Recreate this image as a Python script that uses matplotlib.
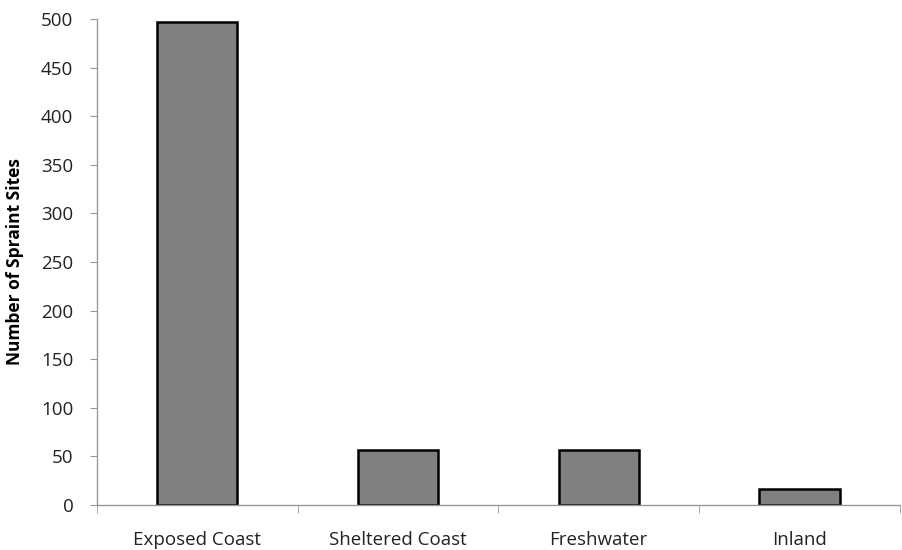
import matplotlib
matplotlib.use("Agg")
import matplotlib.pyplot as plt
import numpy as np

plt.rcParams['font.family'] = ['Open Sans', 'DejaVu Sans']

categories = ['Exposed Coast', 'Sheltered Coast', 'Freshwater', 'Inland']
sites = [497, 57, 57, 16]
yticks = list(range(0, 501, 50))

fig = plt.figure(figsize=(9.02, 5.5), dpi=100)
ax = fig.add_axes([0.1075, 0.0818, 0.89, 0.8837])

x = np.arange(len(categories))
ax.bar(x, sites, width=0.4, color='#808080', edgecolor='black', linewidth=1.8)

ax.set_xlim(-0.5, len(categories) - 0.5)
ax.set_ylim(0, 500)
ax.set_yticks(yticks)
ax.set_yticklabels([str(t) for t in yticks], fontsize=13.5, color='#222222')

# category labels centred, ticks between categories
ax.set_xticks(x)
ax.set_xticklabels(categories, fontsize=13.5, color='#222222')
ax.tick_params(axis='x', length=0, pad=19)
ax.set_xticks(np.arange(-0.5, len(categories)), minor=True)
ax.tick_params(axis='x', which='minor', length=6, color='#999999', direction='out')
ax.tick_params(axis='y', length=5, color='#999999', direction='out', pad=12)

for s in ['top', 'right']:
    ax.spines[s].set_visible(False)
for s in ['left', 'bottom']:
    ax.spines[s].set_color('#999999')
    ax.spines[s].set_linewidth(1)

ax.set_ylabel('Number of Spraint Sites', fontsize=12.5, fontweight='bold', labelpad=12)

fig.savefig('out.png', dpi=100)
